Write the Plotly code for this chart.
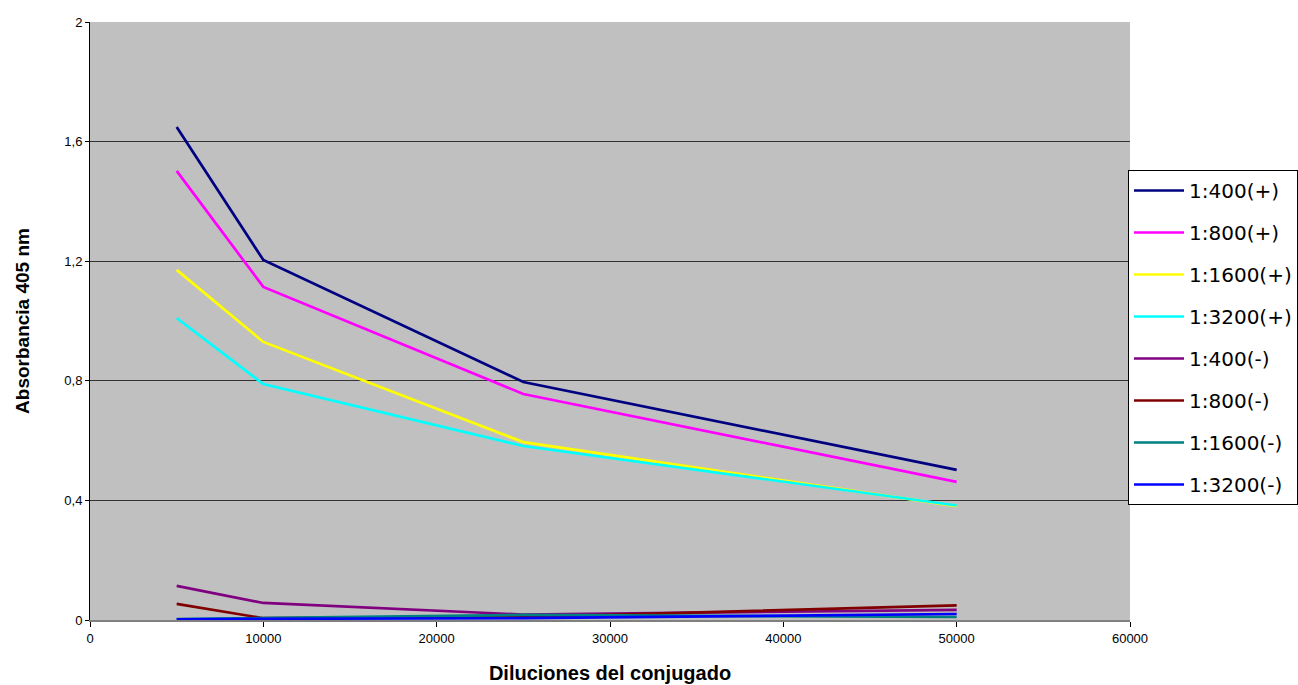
import plotly.graph_objects as go

diluciones = [5000, 10000, 25000, 50000]

series_names = ["1:400(+)", "1:800(+)", "1:1600(+)", "1:3200(+)",
                "1:400(-)", "1:800(-)", "1:1600(-)", "1:3200(-)"]

abs_400_pos = [1.649, 1.204, 0.796, 0.502]
abs_800_pos = [1.502, 1.114, 0.756, 0.462]
abs_1600_pos = [1.171, 0.930, 0.595, 0.381]
abs_3200_pos = [1.010, 0.789, 0.582, 0.383]
abs_400_neg = [0.114, 0.057, 0.018, 0.034]
abs_800_neg = [0.054, 0.006, 0.010, 0.049]
abs_1600_neg = [0.003, 0.006, 0.017, 0.010]
abs_3200_neg = [0.002, 0.004, 0.006, 0.020]

series_values = [abs_400_pos, abs_800_pos, abs_1600_pos, abs_3200_pos,
                 abs_400_neg, abs_800_neg, abs_1600_neg, abs_3200_neg]

colors = ["#000080", "#FF00FF", "#FFFF00", "#00FFFF",
          "#800080", "#800000", "#008080", "#0000FF"]

y_ticks = [0, 0.4, 0.8, 1.2, 1.6, 2]
y_tick_labels = ["0", "0,4", "0,8", "1,2", "1,6", "2"]
x_ticks = [0, 10000, 20000, 30000, 40000, 50000, 60000]

W, H = 1298, 685

fig = go.Figure()
for name, vals, col in zip(series_names, series_values, colors):
    # one legend group per series so the group gap spaces the legend rows
    fig.add_trace(go.Scatter(x=diluciones, y=vals, mode="lines", name=name,
                             legendgroup=name,
                             line=dict(color=col, width=2.7)))

fig.update_layout(
    width=W, height=H,
    margin=dict(l=90, r=168, t=22, b=65, autoexpand=False),
    paper_bgcolor="white",
    plot_bgcolor="#C0C0C0",
    font=dict(family="Arial, Liberation Sans, sans-serif", color="black"),
    showlegend=True,
    legend=dict(
        xref="container", yref="container",
        x=1128 / W, xanchor="left", y=1 - 170 / H, yanchor="top",
        bgcolor="white", bordercolor="black", borderwidth=1,
        font=dict(size=20, family="DejaVu Sans, sans-serif"),
        tracegroupgap=13, itemwidth=50,
    ),
    xaxis=dict(
        range=[0, 60000], tickvals=x_ticks, ticktext=[str(v) for v in x_ticks],
        showgrid=False, zeroline=False, showline=True, linecolor="#808080", linewidth=2,
        ticks="outside", tickcolor="black", ticklen=5, tickfont=dict(size=13),
        title=dict(text="<b>Diluciones del conjugado</b>", font=dict(size=20), standoff=21),
        automargin=False,
    ),
    yaxis=dict(
        range=[0, 2], tickvals=y_ticks, ticktext=y_tick_labels,
        showgrid=True, gridcolor="#333333", gridwidth=1, zeroline=False,
        showline=True, linecolor="black", linewidth=1,
        ticks="outside", tickcolor="black", ticklen=4, tickfont=dict(size=13),
        title=dict(text="<b>Absorbancia 405 nm</b>", font=dict(size=19), standoff=29),
        automargin=False,
    ),
)

fig.write_html("out.html")
